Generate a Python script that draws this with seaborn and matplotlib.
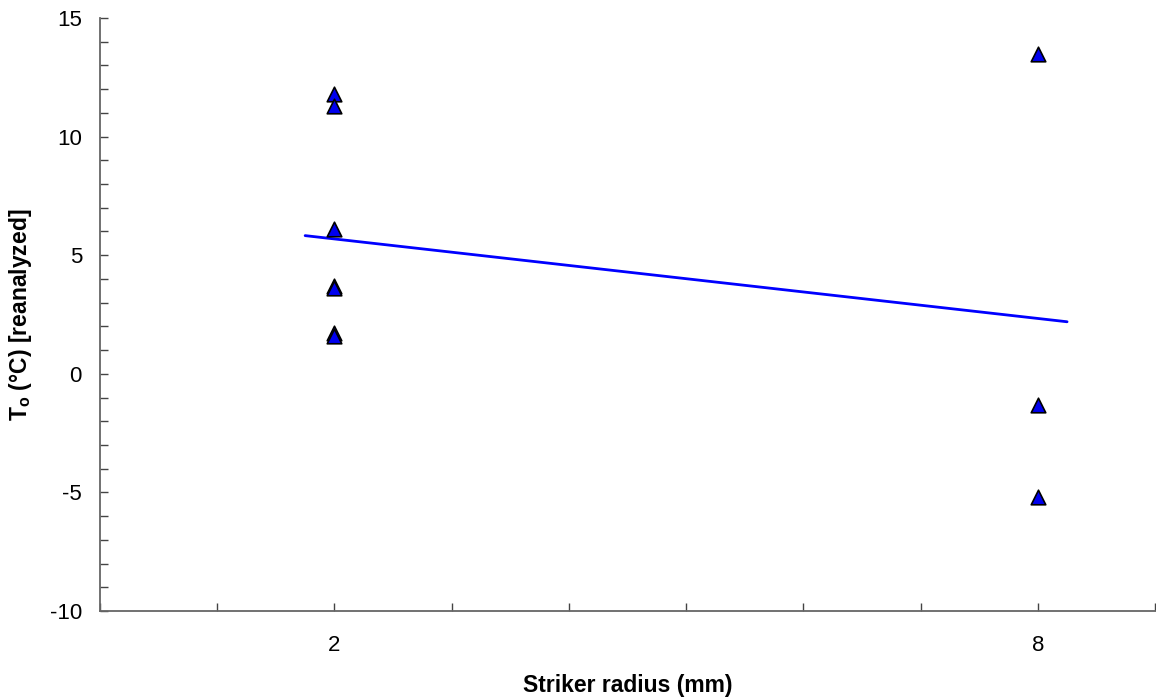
import numpy as np
import pandas as pd
import matplotlib
matplotlib.use("Agg")
import matplotlib.pyplot as plt
import seaborn as sns
from matplotlib.ticker import MultipleLocator, FixedLocator

# Data
radius = [2, 2, 2, 2, 2, 2, 2, 8, 8, 8]
t0 = [11.8, 11.3, 6.1, 3.7, 3.6, 1.7, 1.6, 13.5, -1.3, -5.2]
x_ticks = [2, 8]
y_ticks = [-10, -5, 0, 5, 10, 15]
fit_range = [1.75, 8.25]

sns.set_theme(style="white")
plt.rcParams['font.family'] = ['Liberation Sans', 'DejaVu Sans']
plt.rcParams['mathtext.fontset'] = 'custom'
plt.rcParams['mathtext.rm'] = 'Liberation Sans'
plt.rcParams['mathtext.bf'] = 'Liberation Sans:bold'
plt.rcParams['axes.unicode_minus'] = False
plt.rcParams['text.color'] = 'black'
plt.rcParams['xtick.color'] = '#444444'
plt.rcParams['ytick.color'] = '#444444'
plt.rcParams['xtick.labelcolor'] = 'black'
plt.rcParams['ytick.labelcolor'] = 'black'
plt.rcParams['axes.labelcolor'] = 'black'

df = pd.DataFrame({"radius": radius, "t0": t0})

fig = plt.figure(figsize=(11.56, 6.98), dpi=100)
ax = fig.add_axes([100/1156, 1 - 611/698, 1055/1156, (611-18)/698])

# regression line (OLS fit)
coef = np.polyfit(df["radius"], df["t0"], 1)
xf = np.array(fit_range)
fit_df = pd.DataFrame({"x": xf, "y": np.polyval(coef, xf)})
sns.lineplot(data=fit_df, x="x", y="y", ax=ax, color="#0000FF", linewidth=2.0, zorder=2)

sns.scatterplot(data=df, x="radius", y="t0", ax=ax, marker="^", s=110,
                color="#0000EE", edgecolor="black", linewidth=1.2, zorder=3)

ax.set_xlim(0, 9)
ax.set_ylim(-10, 15)
ax.xaxis.set_major_locator(FixedLocator(x_ticks))
ax.xaxis.set_minor_locator(MultipleLocator(1))
ax.yaxis.set_major_locator(FixedLocator(y_ticks))
ax.yaxis.set_minor_locator(MultipleLocator(1))

for s in ["top", "right"]:
    ax.spines[s].set_visible(False)
for s in ["left", "bottom"]:
    ax.spines[s].set_color("#666666")
    ax.spines[s].set_linewidth(1.3)

ax.tick_params(axis="both", which="both", direction="in",
               labelsize=16, width=1.0, bottom=True, left=True)
ax.tick_params(axis="both", which="major", length=6)
ax.tick_params(axis="both", which="minor", length=6)
ax.tick_params(axis="x", which="major", pad=17)
ax.tick_params(axis="y", which="major", pad=13)

ax.set_xlabel("Striker radius (mm)", fontsize=16.5, fontweight="bold", labelpad=13)
ax.set_ylabel(r"T$_{\mathbf{o}}$ (°C) [reanalyzed]", fontsize=16.5, fontweight="bold", labelpad=11)

fig.savefig("out.png", dpi=100)
